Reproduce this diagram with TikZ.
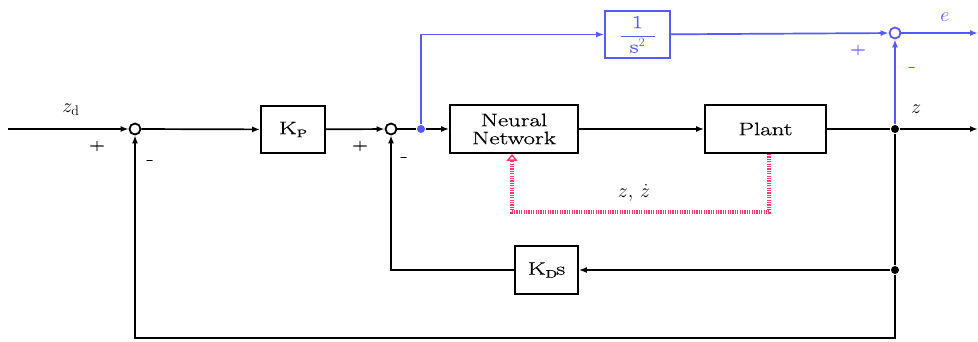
\RequirePackage{fix-cm}
\documentclass[tikz,border=0pt]{standalone}
\usepackage{fontspec}
\newfontfamily\wide{Latin Modern Roman}[FakeStretch=1.38,FakeBold=0.8]
\usetikzlibrary{arrows.meta,calc}
\definecolor{bl}{RGB}{88,88,255}
\definecolor{rd}{RGB}{240,60,110}
\newcommand{\subsc}[1]{\raisebox{-3pt}{\fontsize{11}{11}\selectfont #1}}
\begin{document}
\begin{tikzpicture}[x=1pt,y=-1pt,
  line width=1.7pt,
  arr/.style={-{Latex[length=8pt,width=6pt]}},
  sumc/.style={circle,draw,line width=1.8pt,inner sep=0pt,minimum size=11pt,fill=white},
  pdot/.style={circle,fill,inner sep=0pt,minimum size=8pt},
  blockbox/.style={draw,line width=1.8pt,minimum width=64pt,minimum height=47pt,inner sep=0pt,font=\wide\fontsize{18}{20}\selectfont,align=center},
  lbl/.style={font=\fontsize{20}{22}\selectfont},
  sgn/.style={font=\wide\fontsize{16}{18}\selectfont},
  blue line/.style={draw=bl,color=bl},
  redarr/.style={draw=rd,line width=4.5pt,dash pattern=on 1.2pt off 1.2pt,-{Triangle[open,length=7pt,width=11pt,line width=1.5pt]}}
]
\useasboundingbox (0,0) rectangle (978,341);
% nodes
\coordinate (in) at (8,129);
\node[sumc] (s1) at (135,129) {};
\node[blockbox] (kp) at (293,129.5) {K\subsc{P}};
\node[sumc] (s2) at (391,129) {};
\node[pdot,bl] (bd) at (421,129) {};
\node[blockbox,minimum width=128pt,minimum height=48pt] (nn) at (514,129) {Neural\\[-2pt]Network};
\node[blockbox,minimum width=121pt,minimum height=48pt] (pl) at (765.5,129) {Plant};
\node[pdot] (po) at (895,129) {};
\coordinate (out) at (978,129);
\node[blockbox,draw=bl,text=bl,minimum width=65pt,minimum height=47pt] (ss) at (637.5,34.5) {$\displaystyle\frac{\hbox{\wide 1}}{\hbox to 34pt{\hfil\wide s$^2$\hfil}}$};
\node[sumc,draw=bl] (s3) at (895,33) {};
\coordinate (eout) at (978,33);
\node[pdot] (pd2) at (895,270) {};
\node[blockbox,minimum width=63pt,minimum height=48pt] (kd) at (546.5,270) {K\subsc{D}\kern-1pt s};
\coordinate (bc) at (895,338);
\coordinate (r1) at (769,212);
\coordinate (r2) at (512,212);
% connectors
\draw[arr] (in) -- (s1);
\draw[arr] (s1) -- (kp);
\draw[arr] (kp) -- (s2);
\draw (s2) -- (bd);
\draw[arr] (bd) -- (nn);
\draw[arr] (nn) -- (pl);
\draw (pl) -- (po);
\draw[arr] (po) -- (out);
\draw[blue line,arr] (bd) |- (ss);
\draw[blue line,arr] (ss) -- (s3);
\draw[blue line,arr] (s3) -- (eout);
\draw[blue line,arr] (po) -- (s3);
\draw (po) -- (pd2);
\draw[arr] (pd2) -- (kd);
\draw[arr] (kd.west) -| (s2);
\draw[arr] (pd2) -- (bc) -| (s1);
\draw[redarr] ([xshift=3.5pt]pl.south) -- (r1) -- (r2) -- ([xshift=-2pt]nn.south);
% labels
\node[lbl] at (71,110) {$z_{\mathrm{d}}$};
\node[sgn] at (97,146) {+};
\node[sgn] at (150,162) {-};
\node[sgn] at (360,146) {+};
\node[sgn] at (404,159) {-};
\node[sgn,text=bl] at (858,50) {+};
\node[sgn,text=bl] at (912,69) {-};
\node[lbl,text=bl] at (945,17) {$e$};
\node[lbl] at (916,109) {$z$};
\node[lbl] at (634,193) {$z,\,\dot z$};
\end{tikzpicture}
\end{document}
